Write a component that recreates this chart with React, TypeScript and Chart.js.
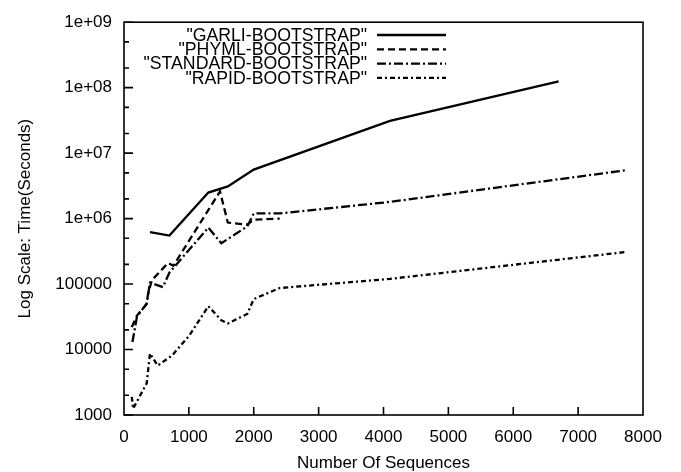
import React, { useEffect, useRef } from 'react';
import { Chart, registerables } from 'chart.js';

Chart.register(...registerables);

// ---- data ----
const seriesNames = ['"GARLI-BOOTSTRAP"', '"PHYML-BOOTSTRAP"', '"STANDARD-BOOTSTRAP"', '"RAPID-BOOTSTRAP"'];

const garliX = [400, 700, 1300, 1600, 2000, 4100, 6700];
const garliY = [620000, 550000, 2500000, 3100000, 5600000, 31000000, 125000000];

const phymlX = [120, 200, 350, 370, 430, 680, 760, 1480, 1600, 1900, 2000, 2400];
const phymlY = [22000, 33000, 50000, 70000, 115000, 210000, 190000, 2600000, 870000, 810000, 960000, 1000000];

const standardX = [130, 200, 350, 400, 600, 700, 1300, 1500, 1900, 2000, 2400, 4100, 7750];
const standardY = [13000, 32000, 50000, 105000, 90000, 150000, 730000, 420000, 760000, 1200000, 1200000, 1800000, 5500000];

const rapidX = [120, 140, 350, 400, 520, 740, 1000, 1300, 1500, 1600, 1900, 2000, 2400, 4100, 7750];
const rapidY = [1900, 1250, 3050, 8700, 5700, 8100, 16000, 46000, 28000, 25000, 35000, 59000, 87000, 120000, 310000];

const xTicks = [0, 1000, 2000, 3000, 4000, 5000, 6000, 7000, 8000];
const yMajorTicks = [1e3, 1e4, 1e5, 1e6, 1e7, 1e8, 1e9];
const yTickLabels = ['1000', '10000', '100000', '1e+06', '1e+07', '1e+08', '1e+09'];
const yMinorFactors = [2, 5];

const FONT = "'Liberation Sans', Arial, Helvetica, sans-serif";

const dashes: number[][] = [[], [7, 4], [9, 3, 2, 3], [5, 3, 2, 3]];

const gnuplotPlugin = {
  id: 'gnuplotFrame',
  afterDatasetsDraw(chart: any) {
    const { ctx, chartArea: a, scales } = chart;
    const xs = scales.x;
    const ys = scales.y;
    ctx.save();
    ctx.strokeStyle = '#000';
    ctx.setLineDash([]);
    ctx.lineWidth = 1.6;
    ctx.strokeRect(a.left, a.top, a.right - a.left, a.bottom - a.top);
    ctx.beginPath();
    for (const v of xTicks) {
      if (v === xTicks[0] || v === xTicks[xTicks.length - 1]) continue;
      const px = xs.getPixelForValue(v);
      ctx.moveTo(px, a.bottom);
      ctx.lineTo(px, a.bottom - 8);
    }
    for (const v of yMajorTicks) {
      const py = ys.getPixelForValue(v);
      ctx.moveTo(a.left, py);
      ctx.lineTo(a.left + 9, py);
      for (const f of yMinorFactors) {
        const mv = v * f;
        if (mv >= yMajorTicks[yMajorTicks.length - 1]) continue;
        const mp = ys.getPixelForValue(mv);
        ctx.moveTo(a.left, mp);
        ctx.lineTo(a.left + 5, mp);
      }
    }
    ctx.stroke();

    // legend (gnuplot style: right-aligned text, sample on the right)
    ctx.font = `17.7px ${FONT}`;
    ctx.fillStyle = '#000';
    ctx.textAlign = 'right';
    ctx.textBaseline = 'middle';
    chart.data.datasets.forEach((ds: any, i: number) => {
      const rowY = 35 + i * 14.3;
      ctx.fillText(ds.label, 367, rowY + 1);
      ctx.beginPath();
      ctx.setLineDash(ds.borderDash || []);
      ctx.lineWidth = ds.borderWidth;
      ctx.moveTo(377, rowY);
      ctx.lineTo(446, rowY);
      ctx.stroke();
    });
    ctx.restore();
  },
};

function pts(xsArr: number[], ysArr: number[]) {
  return xsArr.map((x, i) => ({ x, y: ysArr[i] }));
}

export default function App() {
  const ref = useRef<HTMLCanvasElement | null>(null);
  useEffect(() => {
    if (!ref.current) return;
    const allX = [garliX, phymlX, standardX, rapidX];
    const allY = [garliY, phymlY, standardY, rapidY];
    const font = { family: FONT, size: 17 };
    const chart = new Chart(ref.current, {
      type: 'line',
      data: {
        datasets: seriesNames.map((name, i) => ({
          label: name,
          data: pts(allX[i], allY[i]),
          borderColor: '#000',
          backgroundColor: '#000',
          borderWidth: 2.3,
          borderDash: dashes[i],
          pointRadius: 0,
          tension: 0,
          fill: false,
        })),
      },
      options: {
        animation: false,
        responsive: true,
        maintainAspectRatio: false,
        layout: { padding: { top: 19, right: 38, left: 0, bottom: 0 } },
        plugins: { legend: { display: false }, tooltip: { enabled: false } },
        scales: {
          x: {
            type: 'linear',
            min: 0,
            max: 8000,
            afterBuildTicks: (s: any) => {
              s.ticks = xTicks.map((v) => ({ value: v }));
            },
            afterFit: (s: any) => {
              s.height = 57;
            },
            grid: { display: false, drawTicks: false },
            border: { display: false },
            ticks: {
              padding: 12,
              color: '#000',
              font,
              maxRotation: 0,
              autoSkip: false,
              callback: (v: any) => String(v),
            },
            title: {
              display: true,
              text: 'Number Of Sequences',
              color: '#000',
              font: { family: FONT, size: 17, lineHeight: 1.0 },
              padding: { top: 0, bottom: 0 },
            },
          },
          y: {
            type: 'logarithmic',
            min: 1000,
            max: 1e9,
            afterBuildTicks: (s: any) => {
              s.ticks = yMajorTicks.map((v) => ({ value: v }));
            },
            afterFit: (s: any) => {
              s.width = 124;
            },
            grid: { display: false, drawTicks: false },
            border: { display: false },
            ticks: {
              padding: 12,
              color: '#000',
              font,
              autoSkip: false,
              callback: (_v: any, i: number) => yTickLabels[i],
            },
            title: {
              display: true,
              text: 'Log Scale: Time(Seconds)',
              color: '#000',
              font,
              padding: { top: 15, bottom: 0 },
            },
          },
        },
      },
      plugins: [gnuplotPlugin],
    } as any);
    return () => chart.destroy();
  }, []);
  return (
    <div style={{ position: 'absolute', left: 0, top: 0, width: 681, height: 472, background: '#fff' }}>
      <canvas ref={ref} />
    </div>
  );
}
